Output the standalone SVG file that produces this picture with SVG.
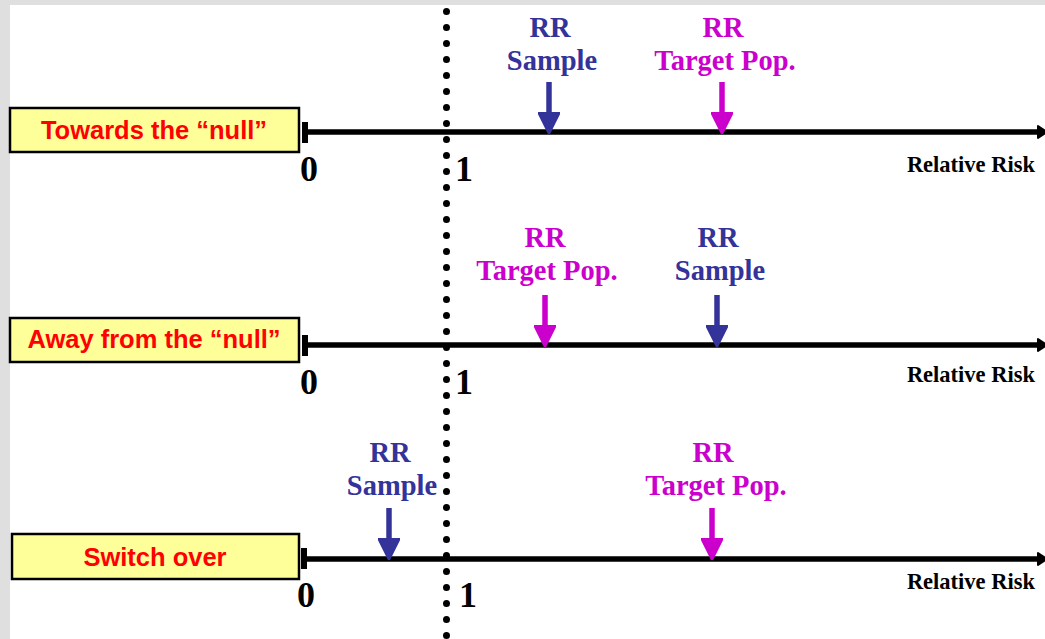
<svg xmlns="http://www.w3.org/2000/svg" width="1045" height="639" viewBox="0 0 1045 639">
<style>
.box{fill:#ffff99;stroke:#000;stroke-width:2.5}
.boxt{font-family:"Liberation Sans",Arial,sans-serif;font-weight:bold;font-size:25.5px;fill:#ff0000;text-anchor:middle}
.axis{stroke:#000;stroke-width:5.5;fill:none}
.num{font-family:"Liberation Serif","Times New Roman",serif;font-weight:bold;font-size:36px;fill:#000}
.rr{font-family:"Liberation Serif","Times New Roman",serif;font-weight:bold;font-size:22.5px;fill:#000;text-anchor:end}
.lbl{font-family:"Liberation Serif","Times New Roman",serif;font-weight:bold;font-size:28.5px;text-anchor:middle}
.navy{fill:#333399}
.mag{fill:#cc00cc}
.sn{stroke:#333399;stroke-width:5.5}
.sm{stroke:#cc00cc;stroke-width:5.5}
</style>
<defs>
<marker id="ahN" markerWidth="4" markerHeight="4" refX="3.2" refY="2" orient="auto" markerUnits="strokeWidth"><path d="M0,0 L4,2 L0,4 z" fill="#333399" stroke="#333399" stroke-width="0.3" stroke-linejoin="round"/></marker>
<marker id="ahM" markerWidth="4" markerHeight="4" refX="3.2" refY="2" orient="auto" markerUnits="strokeWidth"><path d="M0,0 L4,2 L0,4 z" fill="#cc00cc" stroke="#cc00cc" stroke-width="0.3" stroke-linejoin="round"/></marker>
</defs>
<rect x="0" y="0" width="1045" height="639" fill="#dfdfdf"/>
<rect x="10" y="5" width="1035" height="634" fill="#ffffff"/>

<g id="connectors">
<line x1="446.5" y1="11.5" x2="446.5" y2="639" stroke="#000" stroke-width="7" stroke-linecap="round" stroke-dasharray="0 16"/>
<g id="axis1">
<line class="axis" x1="305" y1="132" x2="1043" y2="132"/>
<rect x="302" y="122" width="6" height="21" fill="#000"/>
<path d="M1038,126 L1047,132 L1038,138 z" fill="#000" stroke="#000" stroke-width="2" stroke-linejoin="round"/>
</g>
<g id="axis2">
<line class="axis" x1="305" y1="345" x2="1043" y2="345"/>
<rect x="302" y="335" width="6" height="21" fill="#000"/>
<path d="M1038,339 L1047,345 L1038,351 z" fill="#000" stroke="#000" stroke-width="2" stroke-linejoin="round"/>
</g>
<g id="axis3">
<line class="axis" x1="305" y1="559" x2="1043" y2="559"/>
<rect x="301" y="548" width="6" height="21" fill="#000"/>
<path d="M1038,553 L1047,559 L1038,565 z" fill="#000" stroke="#000" stroke-width="2" stroke-linejoin="round"/>
</g>
<line class="sn" x1="549" y1="82" x2="549" y2="130" marker-end="url(#ahN)"/>
<line class="sm" x1="722" y1="82" x2="722" y2="130" marker-end="url(#ahM)"/>
<line class="sm" x1="545" y1="295" x2="545" y2="343" marker-end="url(#ahM)"/>
<line class="sn" x1="717" y1="295" x2="717" y2="343" marker-end="url(#ahN)"/>
<line class="sn" x1="389" y1="508" x2="389" y2="556" marker-end="url(#ahN)"/>
<line class="sm" x1="712" y1="508" x2="712" y2="556" marker-end="url(#ahM)"/>
</g>

<g id="box1">
<rect class="box" x="10" y="108" width="289" height="44"/>
<text class="boxt" x="154" y="139">Towards the “null”</text>
</g>
<g id="box2">
<rect class="box" x="10" y="318" width="289" height="44"/>
<text class="boxt" x="154" y="348">Away from the “null”</text>
</g>
<g id="box3">
<rect class="box" x="12" y="534" width="287" height="45"/>
<text class="boxt" x="155" y="566">Switch over</text>
</g>

<g id="scale1">
<text class="num" x="300" y="181">0</text>
<text class="num" x="455" y="181">1</text>
<text class="rr" x="1035" y="172">Relative Risk</text>
</g>
<g id="scale2">
<text class="num" x="300" y="394">0</text>
<text class="num" x="455" y="394">1</text>
<text class="rr" x="1035" y="382">Relative Risk</text>
</g>
<g id="scale3">
<text class="num" x="297" y="607">0</text>
<text class="num" x="459" y="607">1</text>
<text class="rr" x="1035" y="589">Relative Risk</text>
</g>

<g id="label1a" class="lbl navy"><text x="550" y="37">RR</text><text x="552" y="70">Sample</text></g>
<g id="label1b" class="lbl mag"><text x="723" y="37">RR</text><text x="725" y="70">Target Pop.</text></g>
<g id="label2a" class="lbl mag"><text x="545" y="247">RR</text><text x="547" y="280">Target Pop.</text></g>
<g id="label2b" class="lbl navy"><text x="718" y="247">RR</text><text x="720" y="280">Sample</text></g>
<g id="label3a" class="lbl navy"><text x="390" y="462">RR</text><text x="392" y="495">Sample</text></g>
<g id="label3b" class="lbl mag"><text x="713" y="462">RR</text><text x="716" y="495">Target Pop.</text></g>
</svg>
